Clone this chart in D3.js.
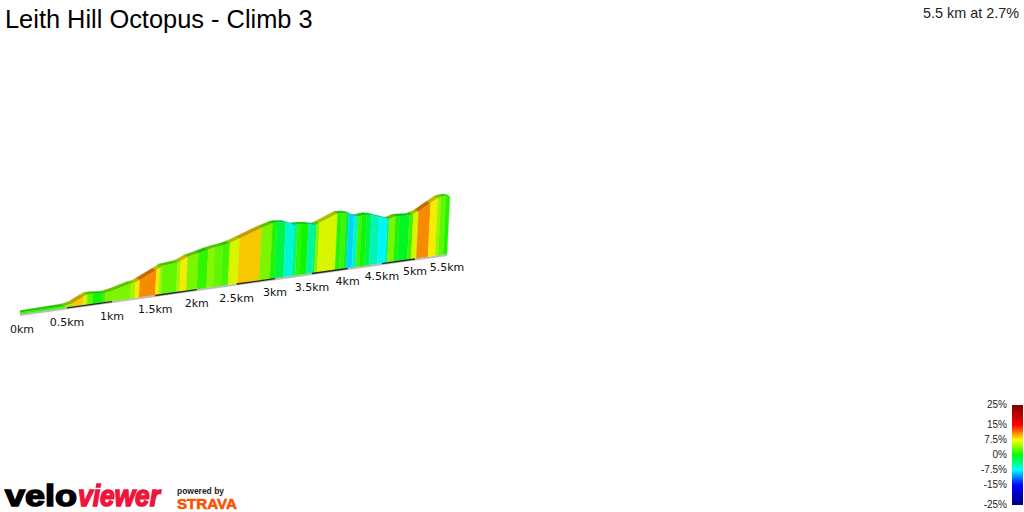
<!DOCTYPE html>
<html>
<head>
<meta charset="utf-8">
<script src="https://cdn.jsdelivr.net/npm/d3@7"></script>
<style>
    html, body { margin: 0; padding: 0; background: #fff; }
    svg { display: block; }
    text { font-family: "Liberation Sans", Arial, sans-serif; }
    .km { font-family: "DejaVu Sans", sans-serif; font-size: 11px; fill: #111; text-anchor: middle; }
</style>
</head>
<body>
<script>
/* distance of each colour change, km */
var kmStops = [0, 0.48, 0.56, 0.68, 0.72, 0.78, 0.89, 0.92, 1.01, 1.21, 1.26, 1.31, 1.50, 1.54, 1.57, 1.75,
    1.79, 1.87, 2.00, 2.12, 2.20, 2.30, 2.39, 2.51, 2.79, 2.93, 2.99, 3.11, 3.22, 3.27, 3.32, 3.42, 3.50,
    3.53, 3.57, 3.82, 3.88, 3.94, 3.98, 4.06, 4.12, 4.17, 4.24, 4.31, 4.43, 4.55, 4.58, 4.67, 4.73, 4.88,
    4.94, 5.02, 5.20, 5.31, 5.36, 5.44, 5.50];

/* metres climbed at each of those distances */
var elevation = [0, 0.5, 4.3, 18, 21.7, 22, 19, 19.4, 22.7, 34.4, 35.7, 40.3, 60, 64, 68, 71.4,
    74.5, 82, 88, 93.6, 96.7, 99, 102.8, 110.7, 130, 137.5, 138.5, 135, 126, 126, 125.7, 122.7, 118.6,
    119, 122, 139.5, 139.5, 138, 135.7, 127.3, 124.5, 126, 126.2, 123.7, 115.8, 107.6, 107, 111, 111, 108.6,
    111, 115.8, 133, 143, 145, 145.6, 143];

/* gradient of each stretch, % (one less than the stops) */
var gradient = [1.5, 4.8, 8.8, 6.6, 3, 0.5, 1.5, 3.8, 3.8, 5, 7.8, 10.8, 7.8, 4.8, 3,
    5, 7.8, 3.8, 1.5, 4, 3, 2, 6.6, 8.9, 3.8, 1, -2, -6.5, -4.5, 1.5, 0.5, -5,
    -3.5, 3.8, 6.6, 1, 2, -1.5, -8.5, -6, 2, 0.5, -2, -5.5, -7.5, -4, 3.8, 1, -1,
    2, 6.6, 10.8, 7.8, 4.8, 3, 1];

var kmTicks = [0, 0.5, 1, 1.5, 2, 2.5, 3, 3.5, 4, 4.5, 5, 5.5];
var legendTicks = [25, 15, 7.5, 0, -7.5, -15, -25];
var legendColors = ["#7f0000", "#ff0000", "#ffff00", "#00ff00", "#00ffff", "#0000ff", "#00007f"];

var width = 1024;
var height = 512;
var perspective = 0.0429; // distance shrinks towards the far end
var lean = 0.05;          // walls lean right a bit with height
var ribbon = {dx: 4, dy: 2};

var svg = d3.select("body").append("svg")
    .attr("width", width)
    .attr("height", height);

function squeeze(k) {
    return k / (1 + perspective * k);
}

var xScale = d3.scaleLinear().domain([0, squeeze(5.5)]).range([20, 447]);
var yBase = d3.scaleLinear().domain([20, 447]).range([314, 254]);
var hScale = d3.scaleLinear().domain([0, 148]).range([1.5, 59.5]);
var color = d3.scaleLinear().domain(legendTicks).range(legendColors);

function baseX(k) { return xScale(squeeze(k)); }
function baseY(k) { return yBase(baseX(k)); }
function topX(i) { return baseX(kmStops[i]) + hScale(elevation[i]) * lean; }
function topY(i) { return baseY(kmStops[i]) - hScale(elevation[i]); }

function polygon(points) {
    return "M" + points.map(function(p) { return p.join(","); }).join("L") + "Z";
}

/* grey edge under the wall */
svg.append("line")
    .attr("x1", baseX(0)).attr("y1", baseY(0) + 1)
    .attr("x2", baseX(5.5)).attr("y2", baseY(5.5) + 1)
    .attr("stroke", "#bdbdbd")
    .attr("stroke-width", 2);

/* top surface goes first, the wall covers its lower edge */
svg.selectAll(".ribbon")
    .data(gradient)
    .enter()
    .append("path")
    .attr("class", "ribbon")
    .attr("d", function(d, i) {
        return polygon([
            [topX(i), topY(i)],
            [topX(i + 1), topY(i + 1)],
            [topX(i + 1) - ribbon.dx, topY(i + 1) - ribbon.dy],
            // the very first edge stays square so the ribbon starts with the wall
            [topX(i) - (i == 0 ? 0 : ribbon.dx), topY(i) - ribbon.dy]
        ]);
    })
    .attr("fill", function(d) { return d3.rgb(color(d)).darker(0.8); })
    .attr("stroke", function(d) { return d3.rgb(color(d)).darker(0.8); })
    .attr("stroke-width", 0.3);

/* the coloured wall */
svg.selectAll(".wall")
    .data(gradient)
    .enter()
    .append("path")
    .attr("class", "wall")
    .attr("d", function(d, i) {
        return polygon([
            [baseX(kmStops[i]), baseY(kmStops[i])],
            [baseX(kmStops[i + 1]), baseY(kmStops[i + 1])],
            [topX(i + 1), topY(i + 1)],
            [topX(i), topY(i)]
        ]);
    })
    .attr("fill", function(d) { return d3.rgb(color(d)).darker(0.1); })
    .attr("stroke", function(d) { return d3.rgb(color(d)).darker(0.1); })
    .attr("stroke-width", 0.3);

/* every other half km is black on the base line */
svg.selectAll(".kmBar")
    .data(kmTicks.filter(function(d, i) { return i % 2 == 1 && d < 5.5; }))
    .enter()
    .append("line")
    .attr("class", "kmBar")
    .attr("x1", function(d) { return baseX(d); })
    .attr("y1", function(d) { return baseY(d) + 0.5; })
    .attr("x2", function(d) { return baseX(d + 0.5); })
    .attr("y2", function(d) { return baseY(d + 0.5) + 0.5; })
    .attr("stroke", d3.rgb(40, 40, 40))
    .attr("stroke-width", 1.4);

svg.selectAll(".km")
    .data(kmTicks)
    .enter()
    .append("text")
    .attr("class", "km")
    .attr("x", function(d) { return baseX(d) + (d == 0 ? 2 : 0); })
    .attr("y", function(d) { return baseY(d) + 19 - d * 0.4; })
    .text(function(d) { return d + "km"; });

/* title and summary */
svg.append("text")
    .attr("x", 5).attr("y", 28)
    .attr("font-size", 25.4)
    .attr("fill", "#000")
    .text("Leith Hill Octopus - Climb 3");

svg.append("text")
    .attr("x", 1019).attr("y", 18)
    .attr("font-size", 14.4)
    .attr("text-anchor", "end")
    .attr("fill", "#222")
    .text("5.5 km at 2.7%");

/* gradient legend */
var legendScale = d3.scaleLinear().domain([25, -25]).range([405, 505]);

var defs = svg.append("defs");
var legendFill = defs.append("linearGradient")
    .attr("id", "legendFill")
    .attr("x1", 0).attr("y1", 0)
    .attr("x2", 0).attr("y2", 1);

legendFill.selectAll("stop")
    .data(legendTicks)
    .enter()
    .append("stop")
    .attr("offset", function(d) { return (legendScale(d) - 405) / 100; })
    .attr("stop-color", function(d) { return color(d); });

svg.append("rect")
    .attr("x", 1012).attr("y", legendScale(25))
    .attr("width", 11).attr("height", legendScale(-25) - legendScale(25))
    .attr("fill", "url(#legendFill)");

var legendAxis = d3.axisLeft(legendScale)
    .tickValues(legendTicks)
    .tickSize(0)
    .tickPadding(0)
    .tickFormat(function(d) { return d + "%"; });

var legendGroup = svg.append("g")
    .attr("transform", "translate(1007,0)")
    .call(legendAxis);

legendGroup.select(".domain").remove();
legendGroup.selectAll("text")
    .attr("font-family", "Liberation Sans")
    .attr("font-size", 10)
    .attr("fill", "#222")
    .attr("dy", "0.22em");

/* logos */
svg.append("text")
    .attr("x", 5).attr("y", 506)
    .attr("font-size", 30)
    .attr("font-weight", "bold")
    .attr("textLength", 72)
    .attr("lengthAdjust", "spacingAndGlyphs")
    .attr("fill", "#000")
    .attr("stroke", "#000")
    .attr("stroke-width", 1.5)
    .text("velo");

svg.append("text")
    .attr("x", 78).attr("y", 506)
    .attr("font-size", 30)
    .attr("font-weight", "bold")
    .attr("font-style", "italic")
    .attr("textLength", 82)
    .attr("lengthAdjust", "spacingAndGlyphs")
    .attr("fill", "#f0143c")
    .attr("stroke", "#f0143c")
    .attr("stroke-width", 1.5)
    .text("viewer");

svg.append("text")
    .attr("x", 177).attr("y", 493.5)
    .attr("font-size", 8.5)
    .attr("font-weight", "bold")
    .attr("textLength", 47)
    .attr("lengthAdjust", "spacingAndGlyphs")
    .attr("fill", "#222")
    .text("powered by");

svg.append("text")
    .attr("x", 177).attr("y", 509)
    .attr("font-size", 15)
    .attr("font-weight", "bold")
    .attr("textLength", 60)
    .attr("lengthAdjust", "spacingAndGlyphs")
    .attr("fill", "#fc5200")
    .attr("stroke", "#fc5200")
    .attr("stroke-width", 0.6)
    .text("STRAVA");
</script>
</body>
</html>
